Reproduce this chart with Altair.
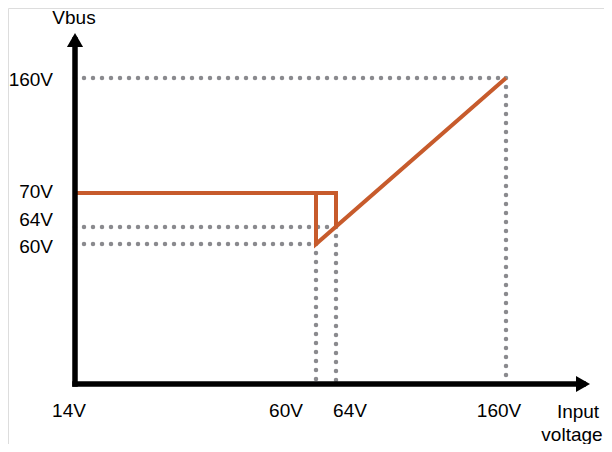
import altair as alt
import pandas as pd

# Key voltages
x_ticks = [14, 60, 64, 160]
x_tick_labels = ["14V", "60V", "64V", "160V"]
y_ticks = [160, 70, 64, 60]
y_tick_labels = ["160V", "70V", "64V", "60V"]
axis_end = 200

# Orange Vbus curve: two segments
seg_a_x = [14, 64, 64]
seg_a_y = [70, 70, 64]
seg_b_x = [60, 60, 160]
seg_b_y = [70, 60, 160]

# Dotted guide lines (x, y, x2, y2)
guide_x = [14, 160, 14, 14, 60, 64]
guide_y = [160, 160, 64, 60, 60, 64]
guide_x2 = [160, 160, 64, 60, 60, 64]
guide_y2 = [160, 14, 64, 60, 14, 14]

FONT = "Liberation Sans"
FS = 19
ORANGE = "#C75B2C"
GREY = "#8A8A8E"

xs = alt.Scale(domain=[14, 60, 64, 160, axis_end], range=[67, 308, 328, 498, 575])
ys = alt.Scale(domain=[14, 60, 64, 70, 160, axis_end], range=[376, 236, 219, 185, 70, 32])

X = lambda: alt.X("x:Q", scale=xs, axis=None)
Y = lambda: alt.Y("y:Q", scale=ys, axis=None)

curve = pd.DataFrame({
    "x": seg_a_x + seg_b_x,
    "y": seg_a_y + seg_b_y,
    "seg": ["a"] * 3 + ["b"] * 3,
    "o": list(range(3)) + list(range(3)),
})
guides = pd.DataFrame({"x": guide_x, "y": guide_y, "x2": guide_x2, "y2": guide_y2})
axes_df = pd.DataFrame({"x": [14, 14], "y": [14, 14], "x2": [axis_end, 14], "y2": [14, axis_end]})

guide_layer = alt.Chart(guides).mark_rule(
    color=GREY, strokeWidth=4.5, strokeDash=[0, 9], strokeCap="round"
).encode(x=X(), y=Y(), x2="x2:Q", y2="y2:Q")

curve_layer = alt.Chart(curve).mark_line(color=ORANGE, strokeWidth=4, strokeJoin="miter").encode(
    x=X(), y=Y(), detail="seg:N", order="o:Q",
)

axis_layer = alt.Chart(axes_df).mark_rule(color="black", strokeWidth=5.5, strokeCap="square").encode(
    x=X(), y=Y(), x2="x2:Q", y2="y2:Q",
)

arrow_r = alt.Chart(pd.DataFrame({"x": [axis_end], "y": [14]})).mark_point(
    shape="triangle-right", filled=True, color="black", opacity=1, size=260
).encode(x=X(), y=Y())

arrow_u = alt.Chart(pd.DataFrame({"x": [14], "y": [axis_end]})).mark_point(
    shape="triangle-up", filled=True, color="black", opacity=1, size=260
).encode(x=X(), y=Y())


def label(xv, yv, txt, dx, dy, align="center"):
    return alt.Chart(pd.DataFrame({"x": [xv], "y": [yv], "t": [txt]})).mark_text(
        font=FONT, fontSize=FS, color="black", align=align, baseline="middle", dx=dx, dy=dy
    ).encode(x=X(), y=Y(), text="t:N")


x_dx = [-6, -30, 14, -7]
y_dy = [2, -1, -7, 3]
text_layers = []
for v, t, d in zip(x_ticks, x_tick_labels, x_dx):
    text_layers.append(label(v, 14, t, d, 27))
for v, t, d in zip(y_ticks, y_tick_labels, y_dy):
    text_layers.append(label(14, v, t, -22, d, align="right"))
text_layers.append(label(14, axis_end, "Vbus", -1, -22))
text_layers.append(label(axis_end, 14, "Input", -5, 28))
text_layers.append(label(axis_end, 14, "voltage", -11, 51))

chart = alt.layer(
    guide_layer, curve_layer, axis_layer, arrow_r, arrow_u, *text_layers
).properties(
    width=596, height=436, padding=0, autosize=alt.AutoSizeParams(type="none")
).configure_view(stroke=None).configure(background="transparent")

chart.save("out.html", embed_options={"renderer": "svg", "actions": False})
